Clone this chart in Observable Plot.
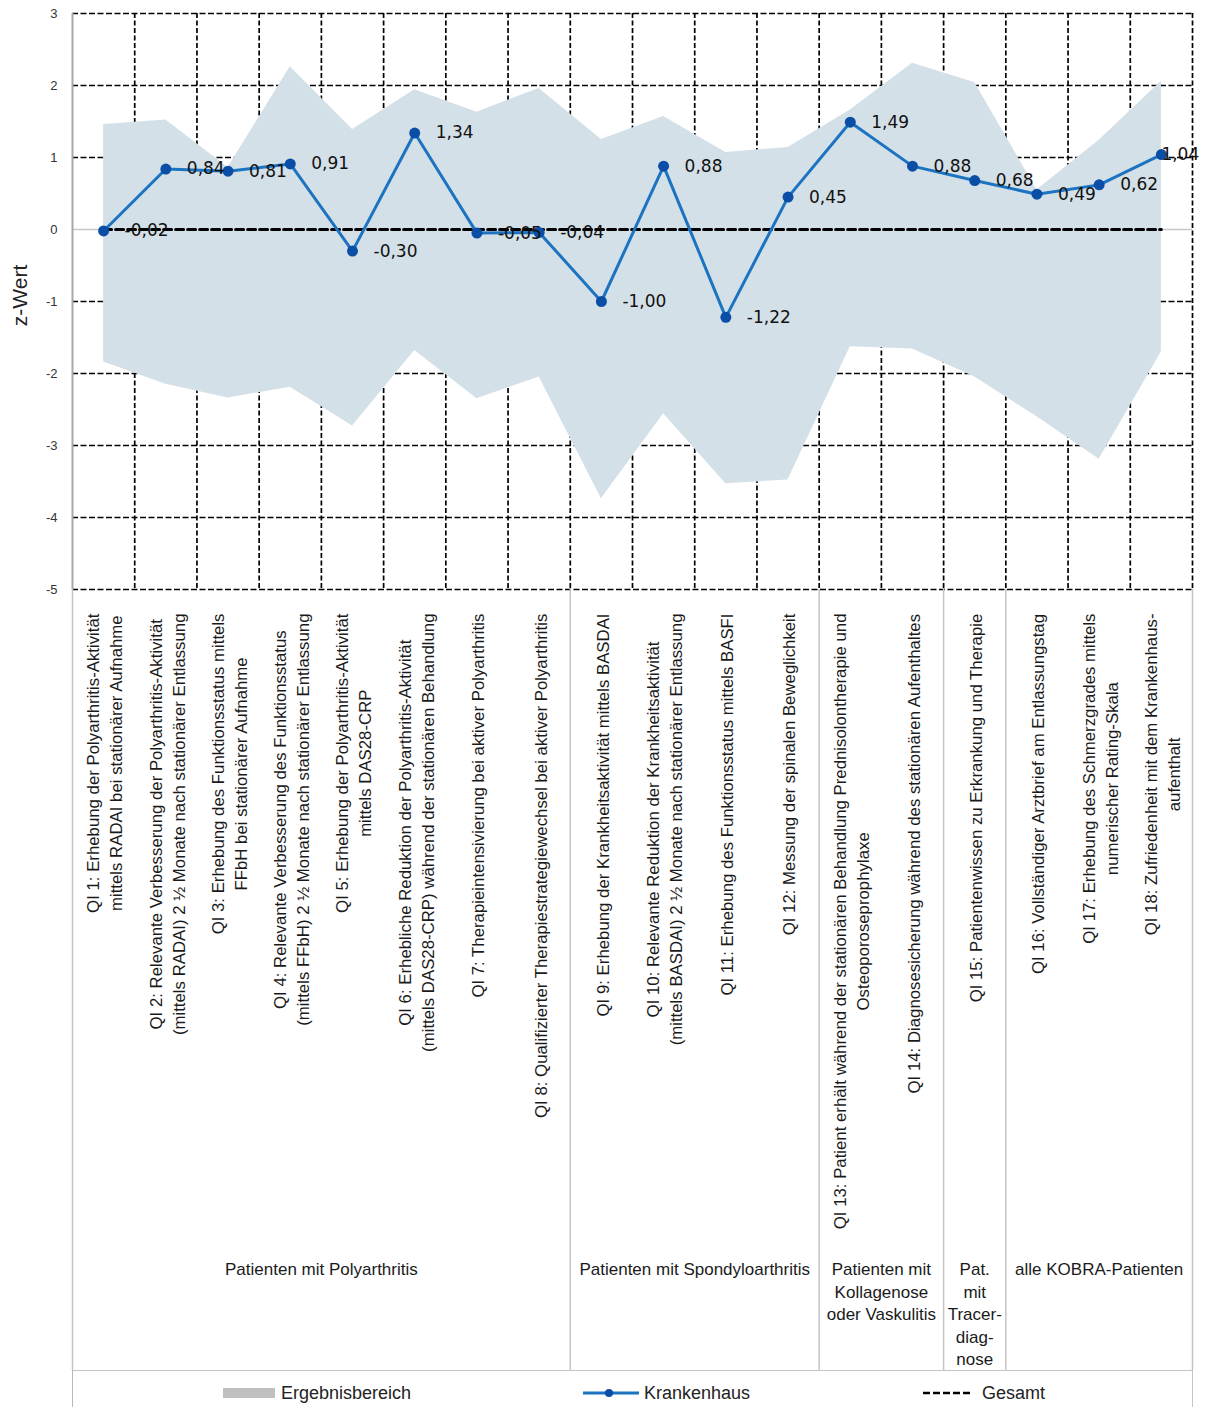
<!DOCTYPE html>
<html>
<head>
<meta charset="utf-8">
<script src="https://cdn.jsdelivr.net/npm/d3@7"></script>
<script src="https://cdn.jsdelivr.net/npm/@observablehq/plot@0.6"></script>
<style>
  html, body { margin: 0; padding: 0; background: #fff; }
  #wrap { position: relative; width: 1207px; height: 1407px; overflow: hidden; font-family: "Liberation Sans", Arial, sans-serif; }
  #mainChart { position: absolute; left: 0; top: 0; }
  #labelTable { position: absolute; left: 0; top: 589px; }
  #legend { position: absolute; left: 72px; top: 1370px; width: 1121px; height: 40px;
    border-top: 1.5px solid #c4c4c4; border-left: 1.5px solid #b8b8b8; border-right: 1.5px solid #c4c4c4; box-sizing: border-box; }
  .lg { position: absolute; top: 10px; font-size: 18px; color: #222; line-height: 24px; display: flex; align-items: center; }
  .lg svg { margin-right: 4px; }
</style>
</head>
<body>
<div id="wrap">
  <div id="mainChart"></div>
  <div id="labelTable"></div>
  <div id="legend"></div>
</div>
<script>
// ---------------- data ----------------
const categories = [
  "QI 1: Erhebung der Polyarthritis-Aktivität\nmittels RADAI bei stationärer Aufnahme",
  "QI 2: Relevante Verbesserung der Polyarthritis-Aktivität\n(mittels RADAI) 2 ½ Monate nach stationärer Entlassung",
  "QI 3: Erhebung des Funktionsstatus mittels\nFFbH bei stationärer Aufnahme",
  "QI 4: Relevante Verbesserung des Funktionsstatus\n(mittels FFbH) 2 ½ Monate nach stationärer Entlassung",
  "QI 5: Erhebung der Polyarthritis-Aktivität\nmittels DAS28-CRP",
  "QI 6: Erhebliche Reduktion der Polyarthritis-Aktivität\n(mittels DAS28-CRP) während der stationären Behandlung",
  "QI 7: Therapieintensivierung bei aktiver Polyarthritis",
  "QI 8: Qualifizierter Therapiestrategiewechsel bei aktiver Polyarthritis",
  "QI 9: Erhebung der Krankheitsaktivität mittels BASDAI",
  "QI 10: Relevante Reduktion der Krankheitsaktivität\n(mittels BASDAI) 2 ½ Monate nach stationärer Entlassung",
  "QI 11: Erhebung des Funktionsstatus mittels BASFI",
  "QI 12: Messung der spinalen Beweglichkeit",
  "QI 13: Patient erhält während der stationären Behandlung Prednisolontherapie und\nOsteoporoseprophylaxe",
  "QI 14: Diagnosesicherung während des stationären Aufenthaltes",
  "QI 15: Patientenwissen zu Erkrankung und Therapie",
  "QI 16: Vollständiger Arztbrief am Entlassungstag",
  "QI 17: Erhebung des Schmerzgrades mittels\nnumerischer Rating-Skala",
  "QI 18: Zufriedenheit mit dem Krankenhaus-\naufenthalt"
];
const krankenhaus = [-0.02, 0.84, 0.81, 0.91, -0.30, 1.34, -0.05, -0.04, -1.00, 0.88, -1.22, 0.45, 1.49, 0.88, 0.68, 0.49, 0.62, 1.04];
const gesamt      = [0, 0, 0, 0, 0, 0, 0, 0, 0, 0, 0, 0, 0, 0, 0, 0, 0, 0];
const bereichOben  = [1.46, 1.52, 0.86, 2.26, 1.39, 1.94, 1.63, 1.96, 1.25, 1.57, 1.07, 1.14, 1.66, 2.31, 2.04, 0.55, 1.24, 2.06];
const bereichUnten = [-1.84, -2.15, -2.34, -2.19, -2.73, -1.68, -2.35, -2.05, -3.74, -2.56, -3.53, -3.48, -1.63, -1.66, -2.05, -2.60, -3.19, -1.70];
const yTicks = [-5, -4, -3, -2, -1, 0, 1, 2, 3];
const groupNames = [
  "Patienten mit Polyarthritis",
  "Patienten mit Spondyloarthritis",
  "Patienten mit\nKollagenose\noder Vaskulitis",
  "Pat.\nmit\nTracer-\ndiag-\nnose",
  "alle KOBRA-Patienten"
];
const groupFirst = [1, 9, 13, 15, 16];
const groupLast  = [8, 12, 14, 15, 18];
const legendLabels = ["Ergebnisbereich", "Krankenhaus", "Gesamt"];

// ---------------- derived ----------------
const rows = categories.map((c, k) => ({
  i: k + 1, label: c, value: krankenhaus[k], total: gesamt[k], lo: bereichUnten[k], hi: bereichOben[k]
}));
const nCat = categories.length;
const boundaries = d3.range(1, nCat + 1).map(i => i + 0.5);
const groupEdges = [groupFirst[0] - 0.5, ...groupLast.map(g => g + 0.5)];
const groups = groupNames.map((g, k) => ({name: g, c: (groupFirst[k] + groupLast[k]) / 2}));
const fmt = v => d3.format(".2f")(v).replace(".", ",").replace("−", "-");

const W = 1207;
const xScale = {type: "linear", domain: [0.5, nCat + 0.5], axis: null};
const lineColor = "#1b73c1";
const dotColor = "#0a4ea6";
const areaColor = "#d4e0e8";

// ---------------- main chart ----------------
const valFont = "DejaVu Sans";
const mainSvg = Plot.plot({
  width: W, height: 590,
  marginTop: 13, marginBottom: 1, marginLeft: 72, marginRight: 15,
  style: {overflow: "visible", fontFamily: "Liberation Sans, Arial, sans-serif", fontSize: "13px", color: "#333", background: "transparent"},
  x: xScale,
  y: {domain: [-5, 3], ticks: yTicks, tickSize: 0, tickPadding: 15, tickFormat: d => String(d), label: null},
  marks: [
    Plot.ruleY(yTicks.filter(d => d !== 0), {stroke: "#000", strokeWidth: 1.7, strokeDasharray: "6,2.5"}),
    Plot.ruleX(boundaries, {stroke: "#000", strokeWidth: 1.7, strokeDasharray: "5,2.5"}),
    Plot.ruleY([0], {stroke: "#c8c8c8", strokeWidth: 1.5}),
    Plot.ruleX([0.5], {stroke: "#a8a8a8", strokeWidth: 2}),
    Plot.areaY(rows, {x: "i", y1: "lo", y2: "hi", fill: areaColor}),
    Plot.line(rows, {x: "i", y: "total", stroke: "#000", strokeWidth: 3, strokeDasharray: "8,4"}),
    Plot.line(rows, {x: "i", y: "value", stroke: lineColor, strokeWidth: 3}),
    Plot.dot(rows, {x: "i", y: "value", r: 5.5, fill: dotColor}),
    Plot.text(rows.filter(d => d.i < nCat), {x: "i", y: "value", text: d => fmt(d.value), dx: 21, textAnchor: "start",
      fontSize: 17, fontFamily: valFont, fill: "#111"}),
    Plot.text(rows.filter(d => d.i === nCat), {x: "i", y: "value", text: d => fmt(d.value), dx: 0, textAnchor: "start",
      fontSize: 17, fontFamily: valFont, fill: "#111"}),
    Plot.text(["z-Wert"], {frameAnchor: "left", textAnchor: "middle", lineAnchor: "middle", rotate: -90, dx: -52, dy: -6, fontSize: 21, fill: "#222"})
  ]
});
document.getElementById("mainChart").appendChild(mainSvg);

// ---------------- label table ----------------
const catSize = 16.8;
const catFont = `${catSize}px "Liberation Sans"`;
const ctx = document.createElement("canvas").getContext("2d");
ctx.font = catFont;
const maxW = s => d3.max(s.split("\n"), l => ctx.measureText(l).width);

const labelMarks = rows.map(r => Plot.text([r], {
  x: "i", text: "label", frameAnchor: "top", rotate: -90, textAnchor: "middle", lineAnchor: "middle",
  dy: 24 + maxW(r.label) / 2, fontSize: catSize, lineHeight: 1.37, fill: "#1a1a1a",
  fontFamily: "Liberation Sans, Arial, sans-serif"
}));

const tableSvg = Plot.plot({
  width: W, height: 781,
  marginTop: 0, marginBottom: 0, marginLeft: 72, marginRight: 15,
  style: {overflow: "visible", fontFamily: "Liberation Sans, Arial, sans-serif", background: "transparent"},
  x: xScale,
  marks: [
    Plot.ruleX(groupEdges, {stroke: "#c4c4c4", strokeWidth: 1.5}),
    ...labelMarks,
    Plot.text(groups, {x: "c", text: "name", frameAnchor: "top", lineAnchor: "top", dy: 670,
      fontSize: 17, lineHeight: 1.32, fill: "#1a1a1a", textAnchor: "middle"})
  ]
});
document.getElementById("labelTable").appendChild(tableSvg);

// ---------------- legend ----------------
const leg = document.getElementById("legend");
leg.innerHTML = `
  <div class="lg" style="left:150px"><svg width="54" height="12"><rect x="0" y="1" width="52" height="10" fill="#c0c0c0"/></svg>${legendLabels[0]}</div>
  <div class="lg" style="left:509px"><svg width="58" height="12"><line x1="1" x2="57" y1="6" y2="6" stroke="${lineColor}" stroke-width="3"/><circle cx="27" cy="6" r="4" fill="${dotColor}"/></svg>${legendLabels[1]}</div>
  <div class="lg" style="left:849px"><svg width="56" height="12"><line x1="1" x2="49" y1="6" y2="6" stroke="#000" stroke-width="2.5" stroke-dasharray="7,3"/></svg>${legendLabels[2]}</div>
`;
</script>
</body>
</html>
